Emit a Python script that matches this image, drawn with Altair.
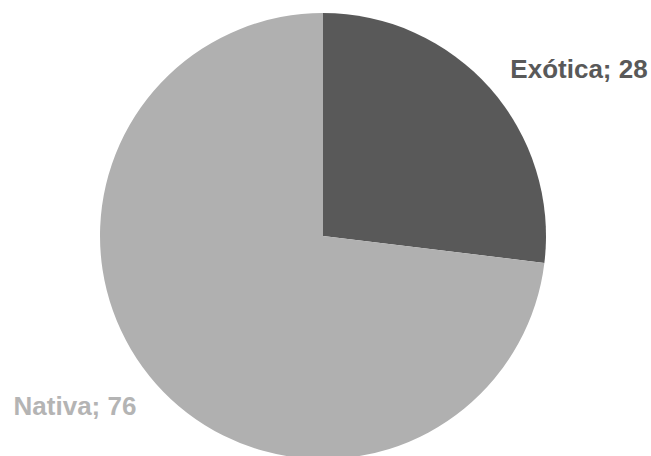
import altair as alt
import pandas as pd

categories = ["Exótica", "Nativa"]
values = [28, 76]
colors = ["#595959", "#b0b0b0"]
label_colors = ["#595959", "#b4b4b4"]

df = pd.DataFrame({"cat": categories, "val": values, "order": [0, 1]})
df["label"] = df["cat"] + "; " + df["val"].astype(str)

base = alt.Chart(df)

pie = base.mark_arc(outerRadius=223, stroke=None).encode(
    theta=alt.Theta("val:Q", stack=True),
    order=alt.Order("order:Q"),
    color=alt.Color("cat:N", scale=alt.Scale(domain=categories, range=colors), legend=None),
    x=alt.value(323),
    y=alt.value(236),
)

def label(cat, x, y, col):
    return base.transform_filter(alt.datum.cat == cat).mark_text(
        font="Liberation Sans", fontWeight="bold", fontSize=26,
        align="center", baseline="middle", color=col,
    ).encode(text="label:N", x=alt.value(x), y=alt.value(y))

chart = alt.layer(
    pie,
    label("Exótica", 579, 70, label_colors[0]),
    label("Nativa", 75, 407, label_colors[1]),
).properties(
    width=651, height=456, padding=0, autosize=alt.AutoSizeParams(type="none"),
).configure_view(stroke=None)

chart.save("out.html", embed_options={"renderer": "svg", "actions": False})
